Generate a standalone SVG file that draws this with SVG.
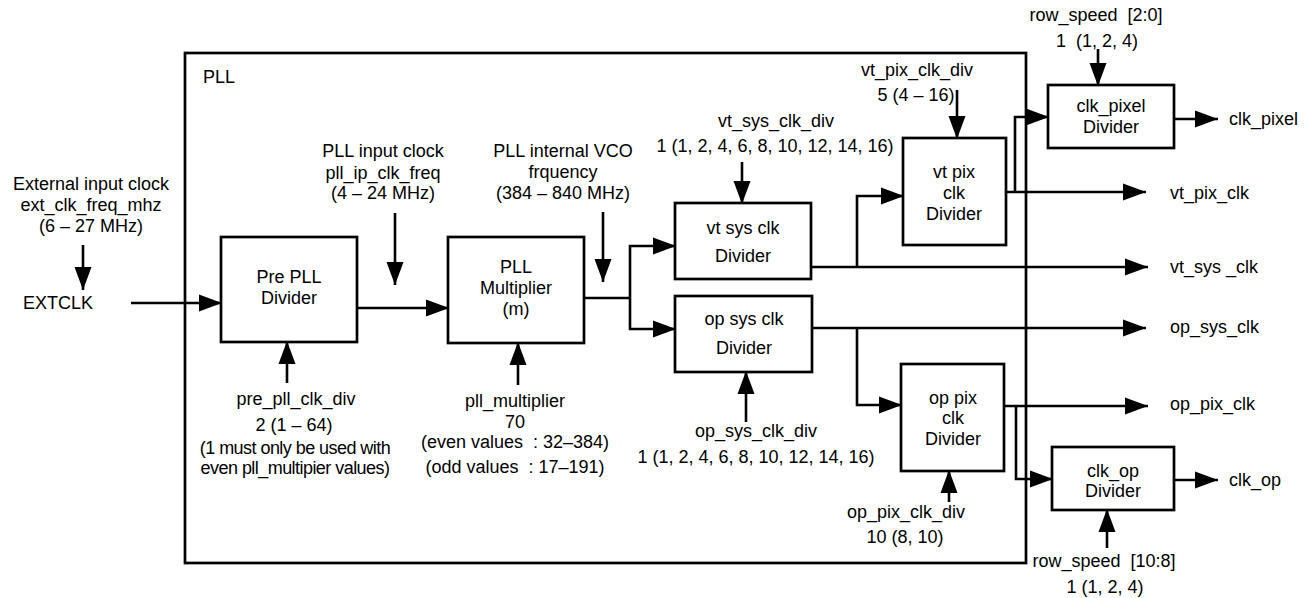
<svg xmlns="http://www.w3.org/2000/svg" width="1312" height="598" viewBox="0 0 1312 598">
<defs>
<style>
text{font-family:"Liberation Sans",Arial,Helvetica,sans-serif;font-size:18px;fill:#000}
.m{text-anchor:middle}
.pre{white-space:pre}
.box{fill:#fff;stroke:#000;stroke-width:2.7}
.frame{fill:none;stroke:#000;stroke-width:2.7}
.c{fill:none;stroke:#000;stroke-width:2.6}
.a{marker-end:url(#ah)}
.cond{letter-spacing:-0.55px}
</style>
<marker id="ah" markerUnits="userSpaceOnUse" markerWidth="24" markerHeight="18" refX="23" refY="8.5" orient="auto" viewBox="0 0 24 17">
<path d="M0,0 L23,8.5 L0,17 z" fill="#000"/>
</marker>
</defs>
<rect x="0" y="0" width="1312" height="598" fill="#fff"/>

<g id="pll-frame">
<rect class="frame" x="185" y="53" width="841" height="510"/>
<text x="203" y="83">PLL</text>
</g>

<g id="connectors">
<line class="c a" x1="83" y1="245" x2="83" y2="290"/>
<line class="c a" x1="131" y1="303" x2="222" y2="303"/>
<line class="c a" x1="395" y1="213" x2="395" y2="285"/>
<line class="c a" x1="357" y1="308" x2="449" y2="308"/>
<line class="c a" x1="287" y1="383" x2="287" y2="341"/>
<line class="c a" x1="518" y1="385" x2="518" y2="342"/>
<line class="c a" x1="603" y1="212" x2="603" y2="282"/>
<polyline class="c" points="584,298 630,298"/>
<polyline class="c a" points="630,298 630,246 676,246"/>
<polyline class="c a" points="630,298 630,329 676,329"/>
<line class="c a" x1="742" y1="162" x2="742" y2="204"/>
<line class="c a" x1="746" y1="422" x2="746" y2="371"/>
<line class="c a" x1="811" y1="267" x2="1148" y2="267"/>
<polyline class="c a" points="857,267 857,196 904,196"/>
<line class="c a" x1="957" y1="90" x2="957" y2="139"/>
<line class="c a" x1="1006" y1="192" x2="1146" y2="192"/>
<polyline class="c a" points="1015,192 1015,117 1049,117"/>
<line class="c a" x1="1098" y1="49" x2="1098" y2="86"/>
<line class="c a" x1="1174" y1="119" x2="1218" y2="119"/>
<line class="c a" x1="812" y1="328" x2="1146" y2="328"/>
<polyline class="c a" points="857,328 857,405 902,405"/>
<line class="c a" x1="1004" y1="406" x2="1148" y2="406"/>
<polyline class="c a" points="1016,406 1016,479 1053,479"/>
<line class="c a" x1="949" y1="502" x2="949" y2="470"/>
<line class="c a" x1="1174" y1="480" x2="1218" y2="480"/>
<line class="c a" x1="1107" y1="548" x2="1107" y2="509"/>
</g>

<g id="ext-input">
<text class="m" x="91" y="190">External input clock</text>
<text class="m" x="91" y="211">ext_clk_freq_mhz</text>
<text class="m" x="91" y="232">(6 – 27 MHz)</text>
<text x="23" y="309">EXTCLK</text>
</g>

<g id="pre-pll-divider">
<rect class="box" x="221" y="237" width="136" height="105"/>
<text class="m" x="289" y="283">Pre PLL</text>
<text class="m" x="289" y="304">Divider</text>
</g>

<g id="pll-input-label">
<text class="m" x="383" y="157">PLL input clock</text>
<text class="m" x="383" y="179">pll_ip_clk_freq</text>
<text class="m" x="383" y="199">(4 – 24 MHz)</text>
</g>

<g id="pll-multiplier">
<rect class="box" x="448" y="237" width="136" height="106"/>
<text class="m" x="516" y="273">PLL</text>
<text class="m" x="516" y="294">Multiplier</text>
<text class="m" x="516" y="315">(m)</text>
</g>

<g id="vco-label">
<text class="m" x="563" y="157">PLL internal VCO</text>
<text class="m" x="563" y="178">frquency</text>
<text class="m" x="563" y="199">(384 – 840 MHz)</text>
</g>

<g id="pre-pll-param">
<text class="m" x="296" y="405">pre_pll_clk_div</text>
<text class="m" x="294" y="431">2 (1 – 64)</text>
<text class="m cond" x="295" y="454">(1 must only be used with</text>
<text class="m cond" x="295" y="474">even pll_multipier values)</text>
</g>

<g id="pll-mult-param">
<text class="m" x="515" y="407">pll_multiplier</text>
<text class="m" x="515" y="428">70</text>
<text class="m pre" x="515" y="448">(even values  : 32–384)</text>
<text class="m pre" x="515" y="473">(odd values  : 17–191)</text>
</g>

<g id="vt-sys-clk-divider">
<rect class="box" x="675" y="203" width="136" height="76"/>
<text class="m" x="743" y="234">vt sys clk</text>
<text class="m" x="743" y="262">Divider</text>
</g>
<g id="vt-sys-param">
<text class="m" x="776" y="127">vt_sys_clk_div</text>
<text class="m" x="775" y="152">1 (1, 2, 4, 6, 8, 10, 12, 14, 16)</text>
</g>

<g id="op-sys-clk-divider">
<rect class="box" x="675" y="296" width="137" height="76"/>
<text class="m" x="744" y="325">op sys clk</text>
<text class="m" x="744" y="354">Divider</text>
</g>
<g id="op-sys-param">
<text class="m" x="756" y="437">op_sys_clk_div</text>
<text class="m" x="756" y="463">1 (1, 2, 4, 6, 8, 10, 12, 14, 16)</text>
</g>

<g id="vt-pix-clk-divider">
<rect class="box" x="903" y="138" width="103" height="107"/>
<text class="m" x="954" y="178">vt pix</text>
<text class="m" x="954" y="199">clk</text>
<text class="m" x="954" y="220">Divider</text>
</g>
<g id="vt-pix-param">
<text class="m" x="917" y="76">vt_pix_clk_div</text>
<text class="m" x="916" y="101">5 (4 – 16)</text>
</g>

<g id="op-pix-clk-divider">
<rect class="box" x="901" y="364" width="103" height="107"/>
<text class="m" x="953" y="404">op pix</text>
<text class="m" x="953" y="424">clk</text>
<text class="m" x="953" y="445">Divider</text>
</g>
<g id="op-pix-param">
<text class="m" x="906" y="518">op_pix_clk_div</text>
<text class="m" x="905" y="543">10 (8, 10)</text>
</g>

<g id="clk-pixel-divider">
<rect class="box" x="1048" y="85" width="126" height="63"/>
<text class="m" x="1111" y="112">clk_pixel</text>
<text class="m" x="1111" y="133">Divider</text>
</g>
<g id="row-speed-top">
<text class="m pre" x="1096" y="21">row_speed  [2:0]</text>
<text class="m pre" x="1097" y="47">1  (1, 2, 4)</text>
</g>

<g id="clk-op-divider">
<rect class="box" x="1052" y="447" width="122" height="63"/>
<text class="m" x="1113" y="477">clk_op</text>
<text class="m" x="1113" y="497">Divider</text>
</g>
<g id="row-speed-bottom">
<text class="m pre" x="1104" y="567">row_speed  [10:8]</text>
<text class="m" x="1105" y="593">1 (1, 2, 4)</text>
</g>

<g id="outputs">
<text x="1229" y="125">clk_pixel</text>
<text x="1170" y="199">vt_pix_clk</text>
<text x="1170" y="273">vt_sys _clk</text>
<text x="1170" y="333">op_sys_clk</text>
<text x="1170" y="410">op_pix_clk</text>
<text x="1229" y="486">clk_op</text>
</g>
</svg>
